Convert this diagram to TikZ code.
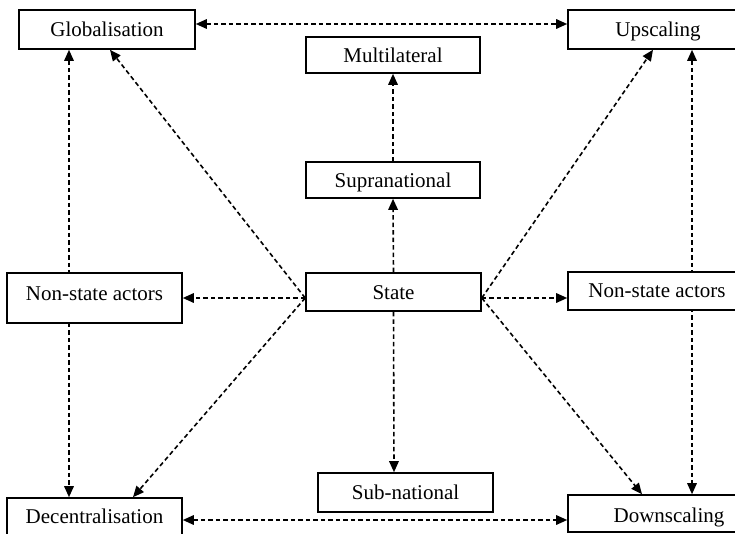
\documentclass[tikz,border=0pt]{standalone}
\usepackage{fontspec}
\setmainfont{Liberation Serif}
\usetikzlibrary{arrows.meta,backgrounds}
\begin{document}
\begin{tikzpicture}[x=1pt,y=-1pt,
  box/.style={draw, line width=1.6pt, fill=white, inner sep=0pt,
    text height=14pt, text depth=0pt,
    font=\fontsize{21}{25}\selectfont},
  link/.style={line width=1.6pt, dash pattern=on 4.5pt off 3pt},
  tip/.style={-{Triangle[length=11pt,width=9.5pt]}},
  tips/.style={{Triangle[length=11pt,width=9.5pt]}-{Triangle[length=11pt,width=9.5pt]}}]
\useasboundingbox (0,0) rectangle (735,533);
\clip (0,0) rectangle (735,533);
\node[box, minimum width=176pt, minimum height=39pt] (glob) at (107,29.5) {Globalisation};
\node[box, minimum width=180pt, minimum height=39pt] (up) at (658,29.5) {Upscaling};
\node[box, minimum width=174pt, minimum height=36pt] (multi) at (393,55) {Multilateral};
\node[box, minimum width=174pt, minimum height=36pt] (supra) at (393,180) {Supranational};
\node[box, minimum width=175pt, minimum height=38pt] (state) at (393.5,292) {State};
\node[box, minimum width=175pt, minimum height=50pt, text depth=10pt] (nsl) at (94.5,298) {Non-state actors};
\node[box, minimum width=178pt, minimum height=38pt, text depth=2pt] (nsr) at (657,291) {Non-state actors};
\node[box, minimum width=175pt, minimum height=39pt] (sub) at (405.5,492.5) {Sub-national};
\node[box, minimum width=175pt, minimum height=38pt, text depth=1pt] (dec) at (94.5,517) {Decentralisation};
\node[box, minimum width=202pt, minimum height=37pt, text height=17pt] (down) at (669,513.5) {Downscaling};
\coordinate (sl) at ([yshift=-6pt]state.west);
\coordinate (sr) at ([yshift=-6pt]state.east);
\begin{pgfonlayer}{background}
\draw[link,tips] ([yshift=5.5pt]glob.east) -- ([yshift=5.5pt]up.west);
\draw[link,tips] ([xshift=-38pt]glob.south) -- ([xshift=-25.5pt]dec.north);
\draw[link,tips] ([xshift=34pt]up.south) -- ([xshift=23pt]down.north);
\draw[link,tips] ([yshift=-3pt]dec.east) -- ([yshift=-6.5pt]down.west);
\draw[link,tip] (sl) -- ([xshift=3pt]glob.south);
\draw[link,tip] (sl) -- (nsl.east);
\draw[link,tip] (sl) -- ([xshift=38.5pt]dec.north);
\draw[link,tip] (sr) -- ([xshift=-5pt]up.south);
\draw[link,tip] (sr) -- ([yshift=-7pt]nsr.west);
\draw[link,tip] (sr) -- ([xshift=-27pt]down.north);
\draw[link,tip] (state.north) -- (supra.south);
\draw[link,tip] (supra.north) -- (multi.south);
\draw[link,tip] (state.south) -- ([xshift=-11.5pt]sub.north);
\end{pgfonlayer}
\end{tikzpicture}
\end{document}
